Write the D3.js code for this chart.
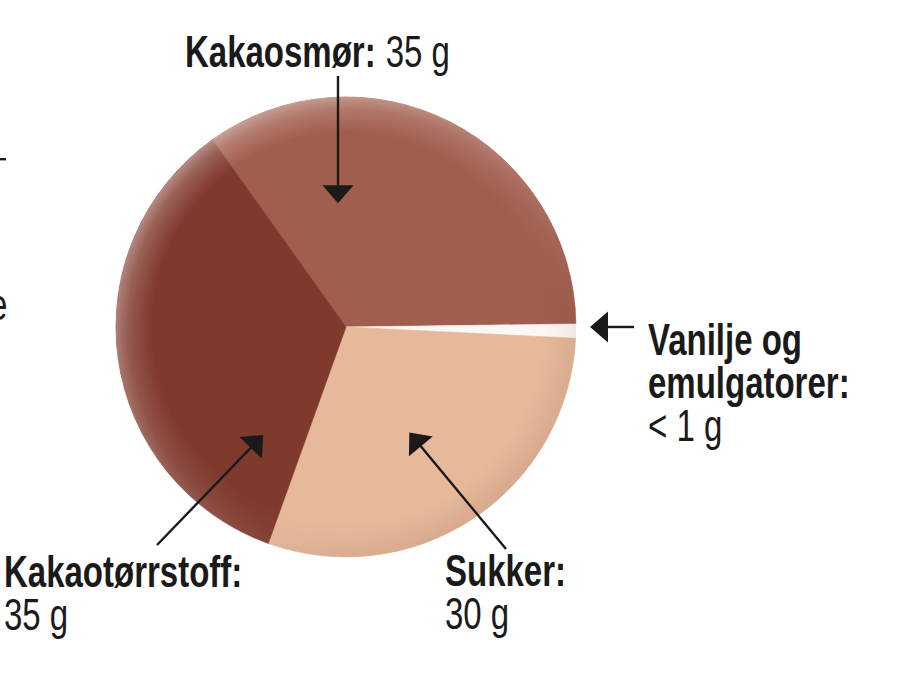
<!DOCTYPE html>
<html>
<head>
<meta charset="utf-8">
<script src="https://cdn.jsdelivr.net/npm/d3@7"></script>
<style>
  body { margin: 0; background: #fff; }
  text { font-family: "Liberation Sans", Arial, sans-serif; fill: #1a1a1a; }
</style>
</head>
<body>
<div id="chart"></div>
<script>
// data
const categories = ["Kakaosmør", "Vanilje og emulgatorer", "Sukker", "Kakaotørrstoff"];
const grams = [35, 1, 30, 35];
const nameLines = [["Kakaosmør:"], ["Vanilje og", "emulgatorer:"], ["Sukker:"], ["Kakaotørrstoff:"]];
const amountLabels = ["35 g", "< 1 g", "30 g", "35 g"];
const sliceColors = ["#a15d4d", "#fbf7f4", "#e6b99b", "#80392d"];

const width = 913, height = 693;
const cx = 346, cy = 327, radius = 230;
const squeeze = 0.75; // condensed type

const svg = d3.select("#chart").append("svg")
    .attr("width", width)
    .attr("height", height)

const defs = svg.append("defs")

// soft light rim on the upper left, darker rim on the lower right
const rimLight = defs.append("radialGradient").attr("id", "rimLight")
rimLight.append("stop").attr("offset", "0.84").attr("stop-color", "#fff").attr("stop-opacity", 0)
rimLight.append("stop").attr("offset", "0.95").attr("stop-color", "#fff").attr("stop-opacity", 0.22)
rimLight.append("stop").attr("offset", "1").attr("stop-color", "#fff").attr("stop-opacity", 0.42)

const rimDark = defs.append("radialGradient").attr("id", "rimDark")
rimDark.append("stop").attr("offset", "0.86").attr("stop-color", "#5a2010").attr("stop-opacity", 0)
rimDark.append("stop").attr("offset", "1").attr("stop-color", "#5a2010").attr("stop-opacity", 0.12)

const fadeTL = defs.append("linearGradient").attr("id", "fadeTL")
    .attr("x1", 0.1).attr("y1", 0.2).attr("x2", 0.7).attr("y2", 0.8)
fadeTL.append("stop").attr("offset", 0).attr("stop-color", "#fff")
fadeTL.append("stop").attr("offset", 1).attr("stop-color", "#000")

const fadeBR = defs.append("linearGradient").attr("id", "fadeBR")
    .attr("x1", 0.45).attr("y1", 0.45).attr("x2", 0.9).attr("y2", 0.95)
fadeBR.append("stop").attr("offset", 0).attr("stop-color", "#000")
fadeBR.append("stop").attr("offset", 1).attr("stop-color", "#fff")

defs.append("mask").attr("id", "maskTL")
  .append("rect").attr("x", -radius).attr("y", -radius)
    .attr("width", radius * 2).attr("height", radius * 2).attr("fill", "url(#fadeTL)")
defs.append("mask").attr("id", "maskBR")
  .append("rect").attr("x", -radius).attr("y", -radius)
    .attr("width", radius * 2).attr("height", radius * 2).attr("fill", "url(#fadeBR)")

const pie = d3.pie()
    .sort(null)
    .startAngle(-35.5 * Math.PI / 180)
    .endAngle((360 - 35.5) * Math.PI / 180)

const arc = d3.arc().innerRadius(0).outerRadius(radius)

const g = svg.append("g")
    .attr("transform", `translate(${cx},${cy})`)

const arcs = pie(grams)

g.selectAll("path.slice")
  .data(arcs)
  .enter().append("path")
    .attr("class", "slice")
    .attr("d", arc)
    .attr("fill", (d, i) => sliceColors[i])
    .attr("stroke", (d, i) => sliceColors[i])
    .attr("stroke-width", 0.6)

g.append("circle").attr("r", radius).attr("fill", "url(#rimLight)").attr("mask", "url(#maskTL)")
g.append("circle").attr("r", radius).attr("fill", "url(#rimDark)").attr("mask", "url(#maskBR)")

// arrow from tail to tip with a filled head
function arrow(tail, tip, headLen, headWidth) {
  const dx = tip[0] - tail[0], dy = tip[1] - tail[1]
  const len = Math.hypot(dx, dy), ux = dx / len, uy = dy / len
  const bx = tip[0] - ux * headLen, by = tip[1] - uy * headLen
  svg.append("line")
      .attr("x1", tail[0]).attr("y1", tail[1])
      .attr("x2", bx + ux * 2).attr("y2", by + uy * 2)
      .attr("stroke", "#1a1a1a").attr("stroke-width", 2.4)
  svg.append("path")
      .attr("d", d3.line()([
        tip,
        [bx - uy * headWidth / 2, by + ux * headWidth / 2],
        [bx + uy * headWidth / 2, by - ux * headWidth / 2]
      ]) + "Z")
      .attr("fill", "#1a1a1a")
}

// where each slice is pointed at, as angle (deg) and distance from the centre
const tipPolar = [[-3.7, 124], [90, 244], [149, 123], [217.5, 136]]
const tailPos = [[338, 76], null, [506, 549], [157, 545]]
const tipXY = tipPolar.map(([a, r]) => {
  const t = a * Math.PI / 180
  return [cx + r * Math.sin(t), cy - r * Math.cos(t)]
})
tipXY.forEach((tip, i) => {
  const tail = i === 1 ? [634, tip[1]] : tailPos[i]
  arrow(tail, tip, 18, 31)
})

const fontSize = 44
const lineGap = 43
const labels = [
  {x: 185, y: 67, inline: true},
  {x: 648, y: 355},
  {x: 445, y: 586},
  {x: 4, y: 587}
]

function label(x, y, txt, bold) {
  return svg.append("text")
      .attr("transform", `translate(${x},${y}) scale(${squeeze},1)`)
      .attr("font-weight", bold ? "bold" : "normal")
      .style("font-size", fontSize + "px")
      .text(txt)
}

labels.forEach((p, i) => {
  if (p.inline) {
    const t = label(p.x, p.y, nameLines[i][0], true)
    const w = t.node().getComputedTextLength() * squeeze
    label(p.x + w + 10, p.y, amountLabels[i], false)
  } else {
    nameLines[i].forEach((line, k) => label(p.x, p.y + k * lineGap, line, true))
    label(p.x, p.y + nameLines[i].length * lineGap, amountLabels[i], false)
  }
})

// cut-off text of a neighbouring figure at the left edge
label(-11, 320, "e", false)
svg.append("rect").attr("x", 0).attr("y", 158).attr("width", 6).attr("height", 2.4).attr("fill", "#1a1a1a")
</script>
</body>
</html>
